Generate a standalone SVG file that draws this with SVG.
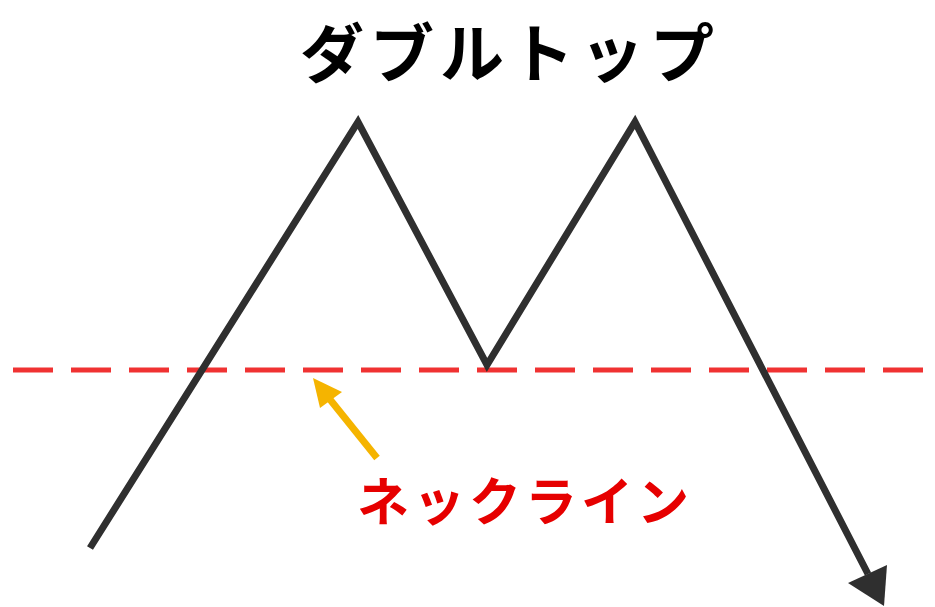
<svg xmlns="http://www.w3.org/2000/svg" width="935" height="607" viewBox="0 0 935 607">
<style>
.t{font-family:"Noto Sans CJK JP","Noto Sans",sans-serif;font-weight:bold;text-anchor:middle}
</style>
<rect width="935" height="607" fill="#ffffff"/>
<g id="title"><text class="t" x="510" y="77" font-size="64" fill="#000" letter-spacing="6">ダブルトップ</text></g>
<g id="neckline"><line x1="13" y1="370" x2="935" y2="370" stroke="#f03232" stroke-width="5" stroke-dasharray="40 18"/></g>
<g id="connectors">
<path d="M90,548 L358,122 L487,365 L635,122 L868,574" fill="none" stroke="#2f2f2f" stroke-width="7" stroke-linejoin="miter"/>
<polygon points="848,583 887,565 884,606" fill="#2f2f2f"/>
<line x1="377" y1="458" x2="328" y2="397" stroke="#f5b400" stroke-width="7"/>
<polygon points="313,378 320,408 342,392" fill="#f5b400"/>
</g>
<g id="label"><text class="t" x="525" y="521" font-size="52" fill="#e60000" letter-spacing="4">ネックライン</text></g>
</svg>
